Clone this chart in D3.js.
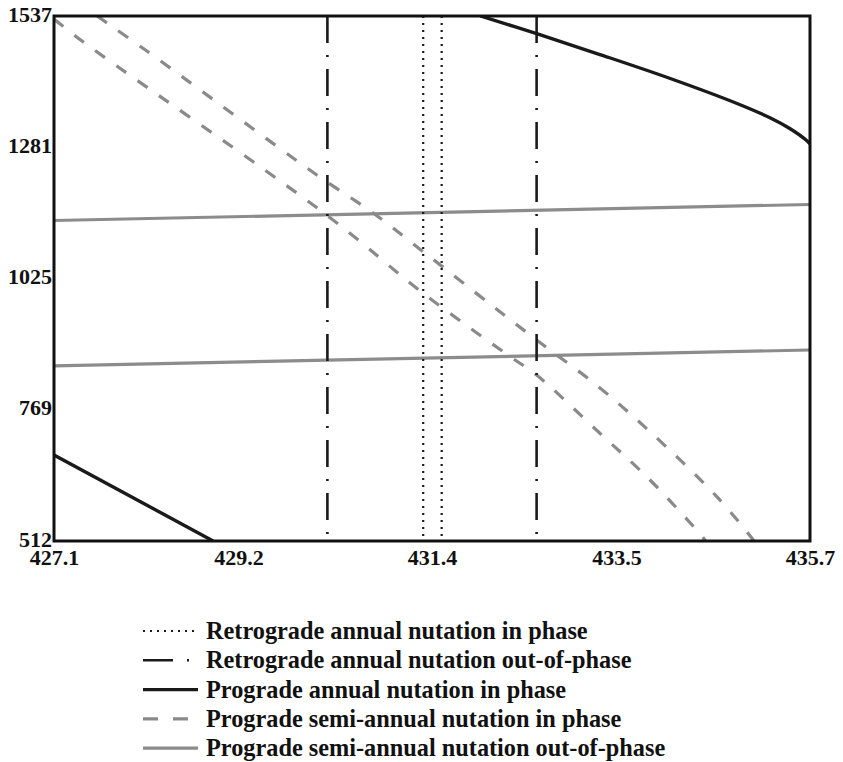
<!DOCTYPE html>
<html>
<head>
<meta charset="utf-8">
<script src="https://cdn.jsdelivr.net/npm/d3@7/dist/d3.min.js"></script>
<style>
  html, body { margin: 0; padding: 0; background: #fff; }
  svg { display: block; }
  text { font-family: "Liberation Serif", "Times New Roman", serif; font-weight: bold; fill: #111; }
</style>
</head>
<body>
<svg id="chart" width="843" height="762"></svg>
<script>
// Axis ticks
const xTicks = [427.1, 429.2, 431.4, 433.5, 435.7];
const yTicks = [512, 769, 1025, 1281, 1537];
const xDomain = [427.1, 435.7];
const yDomain = [512, 1537];

// Retrograde annual nutation in phase (vertical bounds)
const retroInPhaseX = [431.30, 431.51];
// Retrograde annual nutation out-of-phase (vertical bounds)
const retroOutPhaseX = [430.21, 432.59];

// Prograde annual nutation in phase: two branches
const progAnnualUpper = [
  [431.95, 1537], [432.60, 1501.9], [433.31, 1461.8], [434.11, 1415.0],
  [434.87, 1366.2], [435.25, 1337.9], [435.47, 1317.4], [435.655, 1294.9], [435.70, 1287.1]
];
const progAnnualLower = [[427.10, 680], [428.91, 512]];

// Prograde semi-annual nutation in phase: two bounds
const progSemiInUpper = [
  [427.59, 1537], [428.14, 1470.6], [430.09, 1226.6], [430.73, 1152.4],
  [431.30, 1076.8], [432.10, 969.4], [432.59, 904.4], [433.27, 816.6],
  [433.88, 725.4], [434.64, 598.5], [435.04, 517.3], [435.06, 512]
];
const progSemiInLower = [
  [427.10, 1531], [427.43, 1486.8], [430.20, 1148.5], [431.30, 995.6],
  [432.29, 871.8], [432.59, 836.1], [433.31, 722.3], [433.88, 631.1],
  [434.49, 517.3], [434.51, 512]
];

// Prograde semi-annual nutation out-of-phase: two bounds
const progSemiOutUpper = [[427.1, 1137.7], [435.7, 1169.0]];
const progSemiOutLower = [[427.1, 853.9], [435.7, 884.9]];

const legendLabels = [
  "Retrograde annual nutation in phase",
  "Retrograde annual nutation out-of-phase",
  "Prograde annual nutation in phase",
  "Prograde semi-annual nutation in phase",
  "Prograde semi-annual nutation out-of-phase"
];

const margin = { left: 54, top: 16 };
const W = 756, H = 525;

const svg = d3.select("#chart");
const g = svg.append("g").attr("transform", `translate(${margin.left},${margin.top})`);

const x = d3.scaleLinear().domain(xDomain).range([0, W]);
const y = d3.scaleLinear().domain(yDomain).range([H, 0]);

svg.append("defs").append("clipPath").attr("id", "plotClip")
  .append("rect").attr("x", 0).attr("y", 0).attr("width", W).attr("height", H);

const plot = g.append("g").attr("clip-path", "url(#plotClip)");

const line = d3.line().x(d => x(d[0])).y(d => y(d[1])).curve(d3.curveCatmullRom.alpha(0.5));
const straight = d3.line().x(d => x(d[0])).y(d => y(d[1]));

const styles = {
  retroIn:  { stroke: "#1a1a1a", width: 2.2, dash: "2,5" },
  retroOut: { stroke: "#1a1a1a", width: 2.6, dash: "27,12,2,12" },
  progAnn:  { stroke: "#1a1a1a", width: 3.4, dash: null },
  semiIn:   { stroke: "#8a8a8a", width: 3.2, dash: "12,14" },
  semiOut:  { stroke: "#8c8c8c", width: 3.2, dash: null }
};

function drawPath(sel, d, gen, st) {
  sel.append("path").attr("d", gen(d))
    .attr("fill", "none")
    .attr("stroke", st.stroke)
    .attr("stroke-width", st.width)
    .attr("stroke-dasharray", st.dash);
}

// Semi-annual out-of-phase
[progSemiOutUpper, progSemiOutLower].forEach(d => drawPath(plot, d, straight, styles.semiOut));
// Semi-annual in-phase
[progSemiInUpper, progSemiInLower].forEach(d => drawPath(plot, d, line, styles.semiIn));
// Prograde annual in phase
drawPath(plot, progAnnualUpper, line, styles.progAnn);
drawPath(plot, progAnnualLower, straight, styles.progAnn);
// Retrograde vertical bounds
retroOutPhaseX.forEach(v => drawPath(plot, [[v, yDomain[1]], [v, yDomain[0]]], straight, styles.retroOut));
retroInPhaseX.forEach(v => drawPath(plot, [[v, yDomain[1]], [v, yDomain[0]]], straight, styles.retroIn));

// Frame
g.append("rect").attr("x", 0).attr("y", 0).attr("width", W).attr("height", H)
  .attr("fill", "none").attr("stroke", "#111").attr("stroke-width", 3);

// Axes
const xAxis = g.append("g").attr("transform", `translate(0,${H})`)
  .call(d3.axisBottom(x).tickValues(xTicks).tickSize(0).tickPadding(8).tickFormat(d3.format(".1f")));
const yAxis = g.append("g")
  .call(d3.axisLeft(y).tickValues(yTicks).tickSize(0).tickPadding(2).tickFormat(d3.format("d")));
[xAxis, yAxis].forEach(a => {
  a.select(".domain").remove();
  a.selectAll("text").attr("font-size", 22)
    .attr("font-family", "Liberation Serif, Times New Roman, serif")
    .attr("font-weight", "bold").attr("fill", "#111");
});
yAxis.selectAll("text").attr("dy", "0.24em");

// Legend
const legendStyles = [styles.retroIn, styles.retroOut, styles.progAnn, styles.semiIn, styles.semiOut];
const legendDash = ["2,5", "30,14,2,20", null, "15,15", null];
const legend = svg.append("g");
legendLabels.forEach((lab, i) => {
  const cy = 631 + i * 29.3;
  const st = legendStyles[i];
  legend.append("line")
    .attr("x1", 143).attr("x2", 198).attr("y1", cy).attr("y2", cy)
    .attr("stroke", st.stroke).attr("stroke-width", st.width)
    .attr("stroke-dasharray", legendDash[i]);
  legend.append("text")
    .attr("x", 206).attr("y", cy).attr("dy", "0.33em")
    .attr("font-size", 24.3).text(lab);
});
</script>
</body>
</html>
